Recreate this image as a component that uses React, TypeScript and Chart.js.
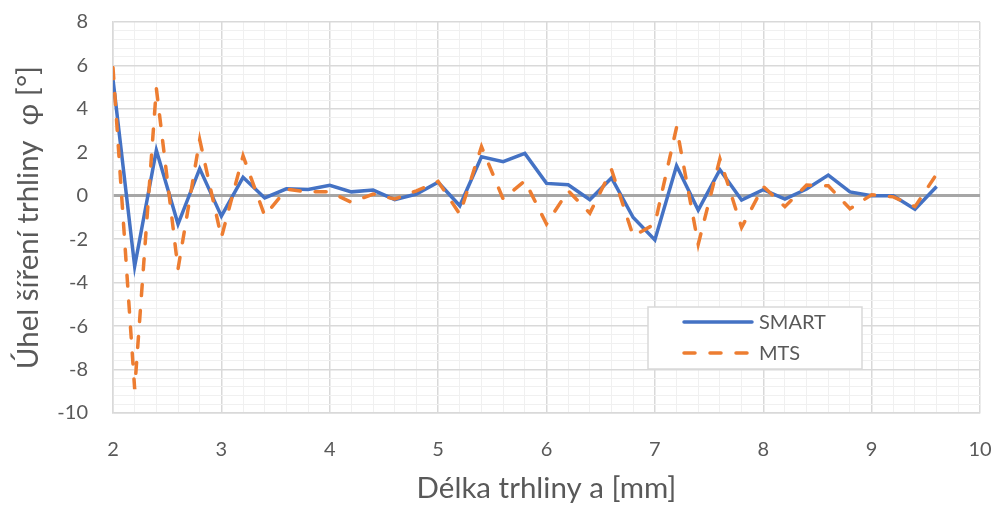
import React, { useEffect, useRef } from "react";
import { Chart, registerables } from "chart.js";

Chart.register(...registerables);

const xValues = [
  2.0, 2.2, 2.4, 2.6, 2.8, 3.0, 3.2, 3.4, 3.6, 3.8,
  4.0, 4.2, 4.4, 4.6, 4.8, 5.0, 5.2, 5.4, 5.6, 5.8,
  6.0, 6.2, 6.4, 6.6, 6.8, 7.0, 7.2, 7.4, 7.6, 7.8,
  8.0, 8.2, 8.4, 8.6, 8.8, 9.0, 9.2, 9.4, 9.6,
];

const smartValues = [
  5.35, -3.25, 2.1, -1.3, 1.25, -0.94, 0.85, -0.1, 0.32, 0.29,
  0.48, 0.18, 0.26, -0.18, 0.08, 0.62, -0.46, 1.8, 1.57, 1.95,
  0.57, 0.51, -0.18, 0.82, -1.0, -2.03, 1.38, -0.66, 1.2, -0.2,
  0.28, -0.15, 0.31, 0.95, 0.18, 0.0, 0.0, -0.62, 0.43,
];

const mtsValues = [
  5.9, -8.9, 4.94, -3.37, 2.58, -1.92, 1.84, -0.92, 0.3, 0.18,
  0.18, -0.3, 0.08, -0.15, 0.23, 0.66, -0.85, 2.26, -0.15, 0.69,
  -1.3, 0.23, -0.8, 1.2, -1.85, -1.3, 3.15, -2.23, 1.7, -1.46,
  0.43, -0.5, 0.49, 0.46, -0.6, 0.05, -0.05, -0.5, 1.0,
];

const seriesNames = ["SMART", "MTS"];
const xTitle = "Délka trhliny a [mm]";
const yTitle = "Úhel šíření trhliny  φ [°]";

const X_MIN = 2, X_MAX = 10, X_MINOR = 0.2;
const Y_MIN = -10, Y_MAX = 8, Y_MINOR = 0.4;

const FONT = "Lato, 'Open Sans', sans-serif";
const TEXT = "#595959";
const BLUE = "#4472C4";
const ORANGE = "#ED7D31";
const MAJOR = "#D9D9D9";
const MINOR = "#F0F0F0";

const near = (a: number, b: number) => Math.abs(a - b) < 1e-6;

const legendPlugin = {
  id: "customLegend",
  afterDraw(chart: any) {
    const ctx = chart.ctx;
    const x0 = 648, y0 = 307, w = 214, h = 62;
    ctx.save();
    ctx.fillStyle = "#ffffff";
    ctx.fillRect(x0, y0, w, h);
    ctx.strokeStyle = MAJOR;
    ctx.lineWidth = 1.5;
    ctx.strokeRect(x0, y0, w, h);
    const items = [
      { name: seriesNames[0], color: BLUE, dash: [] as number[], y: 322 },
      { name: seriesNames[1], color: ORANGE, dash: [11, 15], y: 353 },
    ];
    for (const it of items) {
      ctx.beginPath();
      ctx.strokeStyle = it.color;
      ctx.lineWidth = 3.5;
      ctx.lineCap = "round";
      ctx.setLineDash(it.dash);
      ctx.moveTo(684, it.y);
      ctx.lineTo(752, it.y);
      ctx.stroke();
      ctx.setLineDash([]);
      ctx.fillStyle = TEXT;
      ctx.font = `20px ${FONT}`;
      ctx.textBaseline = "middle";
      ctx.textAlign = "left";
      ctx.fillText(it.name, 759, it.y + 1);
    }
    ctx.restore();
  },
};

export default function App() {
  const ref = useRef<HTMLCanvasElement | null>(null);

  useEffect(() => {
    if (!ref.current) return;
    const chart = new Chart(ref.current, {
      type: "scatter",
      data: {
        datasets: [
          {
            label: seriesNames[0],
            data: xValues.map((x, i) => ({ x, y: smartValues[i] })),
            showLine: true,
            borderColor: BLUE,
            backgroundColor: BLUE,
            borderWidth: 3.5,
            pointRadius: 0,
            tension: 0,
            order: 1,
          },
          {
            label: seriesNames[1],
            data: xValues.map((x, i) => ({ x, y: mtsValues[i] })),
            showLine: true,
            borderColor: ORANGE,
            backgroundColor: ORANGE,
            borderWidth: 3.5,
            borderDash: [11, 15],
            borderCapStyle: "round",
            pointRadius: 0,
            tension: 0,
            order: 0,
          },
        ],
      },
      options: {
        responsive: false,
        animation: false,
        layout: { padding: { top: 22, right: 15, left: 0, bottom: 0 } },
        plugins: {
          legend: { display: false },
          tooltip: { enabled: false },
        },
        scales: {
          x: {
            type: "linear",
            min: X_MIN,
            max: X_MAX,
            afterBuildTicks: (scale: any) => {
              const t = [];
              const n = Math.round((X_MAX - X_MIN) / X_MINOR);
              for (let i = 0; i <= n; i++) t.push({ value: Math.round((X_MIN + i * X_MINOR) * 10) / 10 });
              scale.ticks = t;
            },
            afterFit: (scale: any) => {
              scale.height = 93;
              scale.paddingLeft = 0;
              scale.paddingRight = 0;
            },
            ticks: {
              autoSkip: false,
              maxRotation: 0,
              padding: 25,
              color: TEXT,
              font: { family: FONT, size: 20 },
              callback: (v: any) => (Number.isInteger(Math.round(v * 10) / 10) ? String(Math.round(v)) : ""),
            },
            grid: {
              drawTicks: false,
              color: (c: any) => (near(c.tick.value, Math.round(c.tick.value)) ? MAJOR : MINOR),
              lineWidth: (c: any) => (near(c.tick.value, Math.round(c.tick.value)) ? 1.5 : 1),
            },
            border: { color: MAJOR, width: 1.5 },
            title: {
              display: true,
              text: xTitle,
              color: TEXT,
              font: { family: FONT, size: 29.5, weight: "normal" },
              padding: { top: 0, bottom: 0 },
            },
          },
          y: {
            type: "linear",
            min: Y_MIN,
            max: Y_MAX,
            afterBuildTicks: (scale: any) => {
              const t = [];
              const n = Math.round((Y_MAX - Y_MIN) / Y_MINOR);
              for (let i = 0; i <= n; i++) t.push({ value: Math.round((Y_MIN + i * Y_MINOR) * 10) / 10 });
              scale.ticks = t;
            },
            afterFit: (scale: any) => {
              scale.width = 113;
              scale.paddingTop = 0;
              scale.paddingBottom = 0;
            },
            ticks: {
              autoSkip: false,
              padding: 25,
              color: TEXT,
              font: { family: FONT, size: 20 },
              callback: (v: any) => {
                const r = Math.round(v);
                return near(v, r) && r % 2 === 0 ? String(r) : "";
              },
            },
            grid: {
              drawTicks: false,
              color: (c: any) => {
                const v = c.tick.value;
                if (near(v, 0)) return "#A6A6A6";
                const r = Math.round(v);
                return near(v, r) && r % 2 === 0 ? MAJOR : MINOR;
              },
              lineWidth: (c: any) => {
                const v = c.tick.value;
                if (near(v, 0)) return 3;
                const r = Math.round(v);
                return near(v, r) && r % 2 === 0 ? 1.5 : 1;
              },
            },
            border: { color: MAJOR, width: 1.5 },
            title: {
              display: true,
              text: yTitle,
              color: TEXT,
              font: { family: FONT, size: 29.5, weight: "normal" },
              padding: { top: 11, bottom: 0 },
            },
          },
        },
      },
      plugins: [legendPlugin],
    } as any);
    return () => chart.destroy();
  }, []);

  return (
    <div style={{ position: "fixed", left: 0, top: 0, width: 995, height: 506, background: "#fff" }}>
      <canvas ref={ref} width={995} height={506} style={{ display: "block" }} />
    </div>
  );
}
